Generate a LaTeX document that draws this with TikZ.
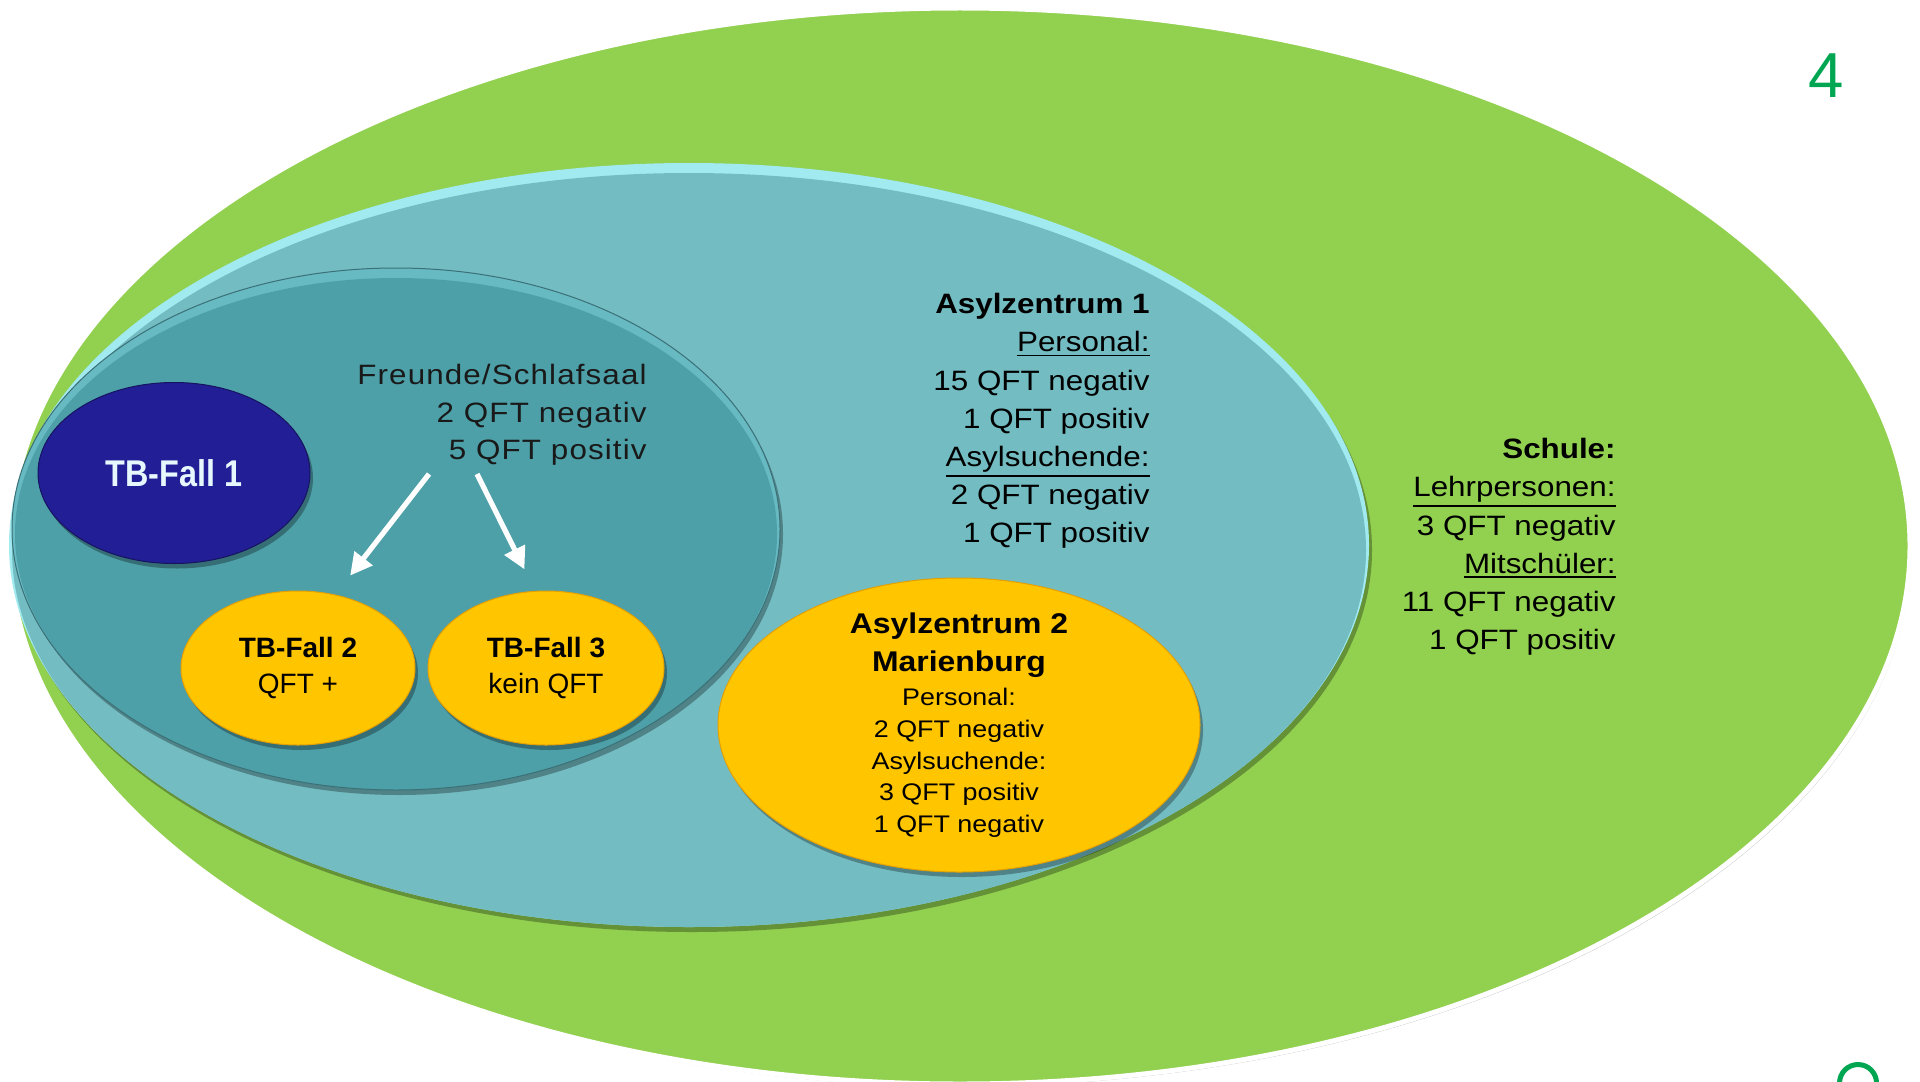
\documentclass[tikz,border=0pt]{standalone}
\usepackage{fontspec}
\setmainfont[FakeStretch=1.12]{Liberation Sans}
\newfontfamily\normalschrift{Liberation Sans}
\newfontfamily\schmalschrift[FakeStretch=0.87]{Liberation Sans}
\newfontfamily\sperrschrift[FakeStretch=1.12, LetterSpace=4]{Liberation Sans}
\usepackage{xcolor}
\usepackage{tikz}
\usetikzlibrary{calc, shapes.geometric, arrows.meta, shadows}

\definecolor{gruen}{RGB}{146,208,80}
\definecolor{gruenschrift}{RGB}{0,166,81}
\definecolor{tuerkis}{RGB}{115,188,194}
\definecolor{tuerkisrand}{RGB}{160,234,240}
\definecolor{petrol}{RGB}{77,160,168}
\definecolor{petrolrand}{RGB}{104,186,194}
\definecolor{petrollinie}{RGB}{58,112,118}
\definecolor{marine}{RGB}{34,30,150}
\definecolor{marinehell}{RGB}{78,74,212}
\definecolor{marinedunkel}{RGB}{22,20,96}
\definecolor{gelb}{RGB}{255,198,0}
\definecolor{gelbhell}{RGB}{255,232,50}
\definecolor{gelbdunkel}{RGB}{228,160,0}

% Schattierungen fuer die Ellipsen (unten dunkler, oben heller Rand)
\pgfdeclareverticalshading{gelbschale}{100bp}{color(0bp)=(gelbdunkel);
    color(16bp)=(gelb); color(82bp)=(gelb); color(100bp)=(gelbhell)}
\pgfdeclareverticalshading{marineschale}{100bp}{color(0bp)=(marinedunkel);
    color(18bp)=(marine); color(80bp)=(marine); color(100bp)=(marinehell)}

\newcommand{\unterstr}[1]{\vtop{\hbox{#1}\kern1.2pt\hrule height 0.9pt}}
\newcommand{\grosstitel}{\fontsize{14.25pt}{19pt}\selectfont\bfseries}

\begin{document}
\begin{tikzpicture}[x=0.5pt, y=-0.5pt, >={Triangle[length=11pt, width=11pt]},
    schatten/.style={drop shadow={shadow xshift=1.5pt, shadow yshift=-2.5pt,
        opacity=0.3, fill=black}},
    fall/.style={ellipse, inner sep=0pt, align=center, schatten},
    fallgelb/.style={fall, draw=gelbdunkel, line width=0.5pt, shading=gelbschale},
    textblock/.style={anchor=north east, inner sep=0pt, align=right,
        font=\fontsize{14pt}{19.1pt}\selectfont},
    pfeil/.style={->, white, line width=2.6pt, shorten >=12pt}]

    % =================================================================
    % 1. RAHMEN UND AEUSSERE ELLIPSE (SCHULE)
    % =================================================================
    \useasboundingbox (0,0) rectangle (1920,1081);

    \fill[gruen, draw=white, line width=2.5pt,
        drop shadow={shadow xshift=0.8pt, shadow yshift=-1.2pt, opacity=0.25, fill=black}]
        (960,546) ellipse [x radius=950, y radius=538];

    % =================================================================
    % 2. ASYLZENTRUM 1 UND FREUNDE/SCHLAFSAAL
    % =================================================================
    % helle Kante oben, Flaeche leicht nach unten versetzt
    \fill[tuerkisrand, schatten] (689,545) ellipse [x radius=680, y radius=382];
    \fill[tuerkis] (689,550) ellipse [x radius=677, y radius=377];

    \fill[petrolrand, schatten] (396,529) ellipse [x radius=384, y radius=261];
    \fill[petrol] (396,534) ellipse [x radius=381, y radius=256];
    \draw[petrollinie, line width=0.5pt] (396,529) ellipse [x radius=384, y radius=261];

    % =================================================================
    % 3. DIE FAELLE
    % =================================================================
    \node[fall, minimum width=136pt, minimum height=90.5pt, draw=marinedunkel,
        line width=0.5pt, shading=marineschale, text=white!90!cyan,
        font=\schmalschrift\bfseries\fontsize{18.6pt}{22pt}\selectfont]
        (fall1) at (174,473) {TB-Fall 1};

    \node[fallgelb, minimum width=117pt, minimum height=77pt,
        font=\normalschrift\fontsize{14pt}{18pt}\selectfont]
        (fall2) at (298,668) {\textbf{TB-Fall 2}\\QFT +};
    \node[fallgelb, minimum width=118pt, minimum height=77pt,
        font=\normalschrift\fontsize{14pt}{18pt}\selectfont]
        (fall3) at (546,668) {\textbf{TB-Fall 3}\\kein QFT};

    \node[fallgelb, minimum width=241pt, minimum height=147pt, inner ysep=-5pt,
        font=\fontsize{12pt}{15.85pt}\selectfont]
        (asyl2) at (959,725) {{\grosstitel Asylzentrum 2}\\[3.35pt]
        {\grosstitel Marienburg}\\[1.15pt]Personal:\\2 QFT negativ\\
        Asylsuchende:\\3 QFT positiv\\1 QFT negativ};

    % =================================================================
    % 4. PFEILE ZU DEN FAELLEN 2 UND 3
    % =================================================================
    \coordinate (p1) at (429,474);
    \coordinate (p2) at (477,474);
    \draw[pfeil] (p1) -- (fall2.63);
    \draw[pfeil] (p2) -- (fall3.98);

    % =================================================================
    % 5. BESCHRIFTUNGEN
    % =================================================================
    \node[textblock, text=black!90,
        font=\sperrschrift\fontsize{14pt}{18.75pt}\selectfont]
        (freunde) at (647,364) {Freunde/Schlafsaal\\2 QFT negativ\\5 QFT positiv};

    \node[textblock] (asyl1) at (1150,293) {\textbf{Asylzentrum 1}\\
        \unterstr{Personal:}\\15 QFT negativ\\1 QFT positiv\\
        \unterstr{Asylsuchende:}\\2 QFT negativ\\1 QFT positiv};

    \node[textblock] (schule) at (1616,438) {\textbf{Schule:}\\
        \unterstr{Lehrpersonen:}\\3 QFT negativ\\\unterstr{Mitschüler:}\\
        11 QFT negativ\\1 QFT positiv};

    % Seitenzahl und Kreis unten rechts
    \node[text=gruenschrift, font=\normalschrift\fontsize{31.8pt}{36pt}\selectfont]
        (seite) at (1826,76) {4};
    \draw[gruenschrift, line width=2.5pt] (1858,1083) circle [radius=18.5];

\end{tikzpicture}
\end{document}
